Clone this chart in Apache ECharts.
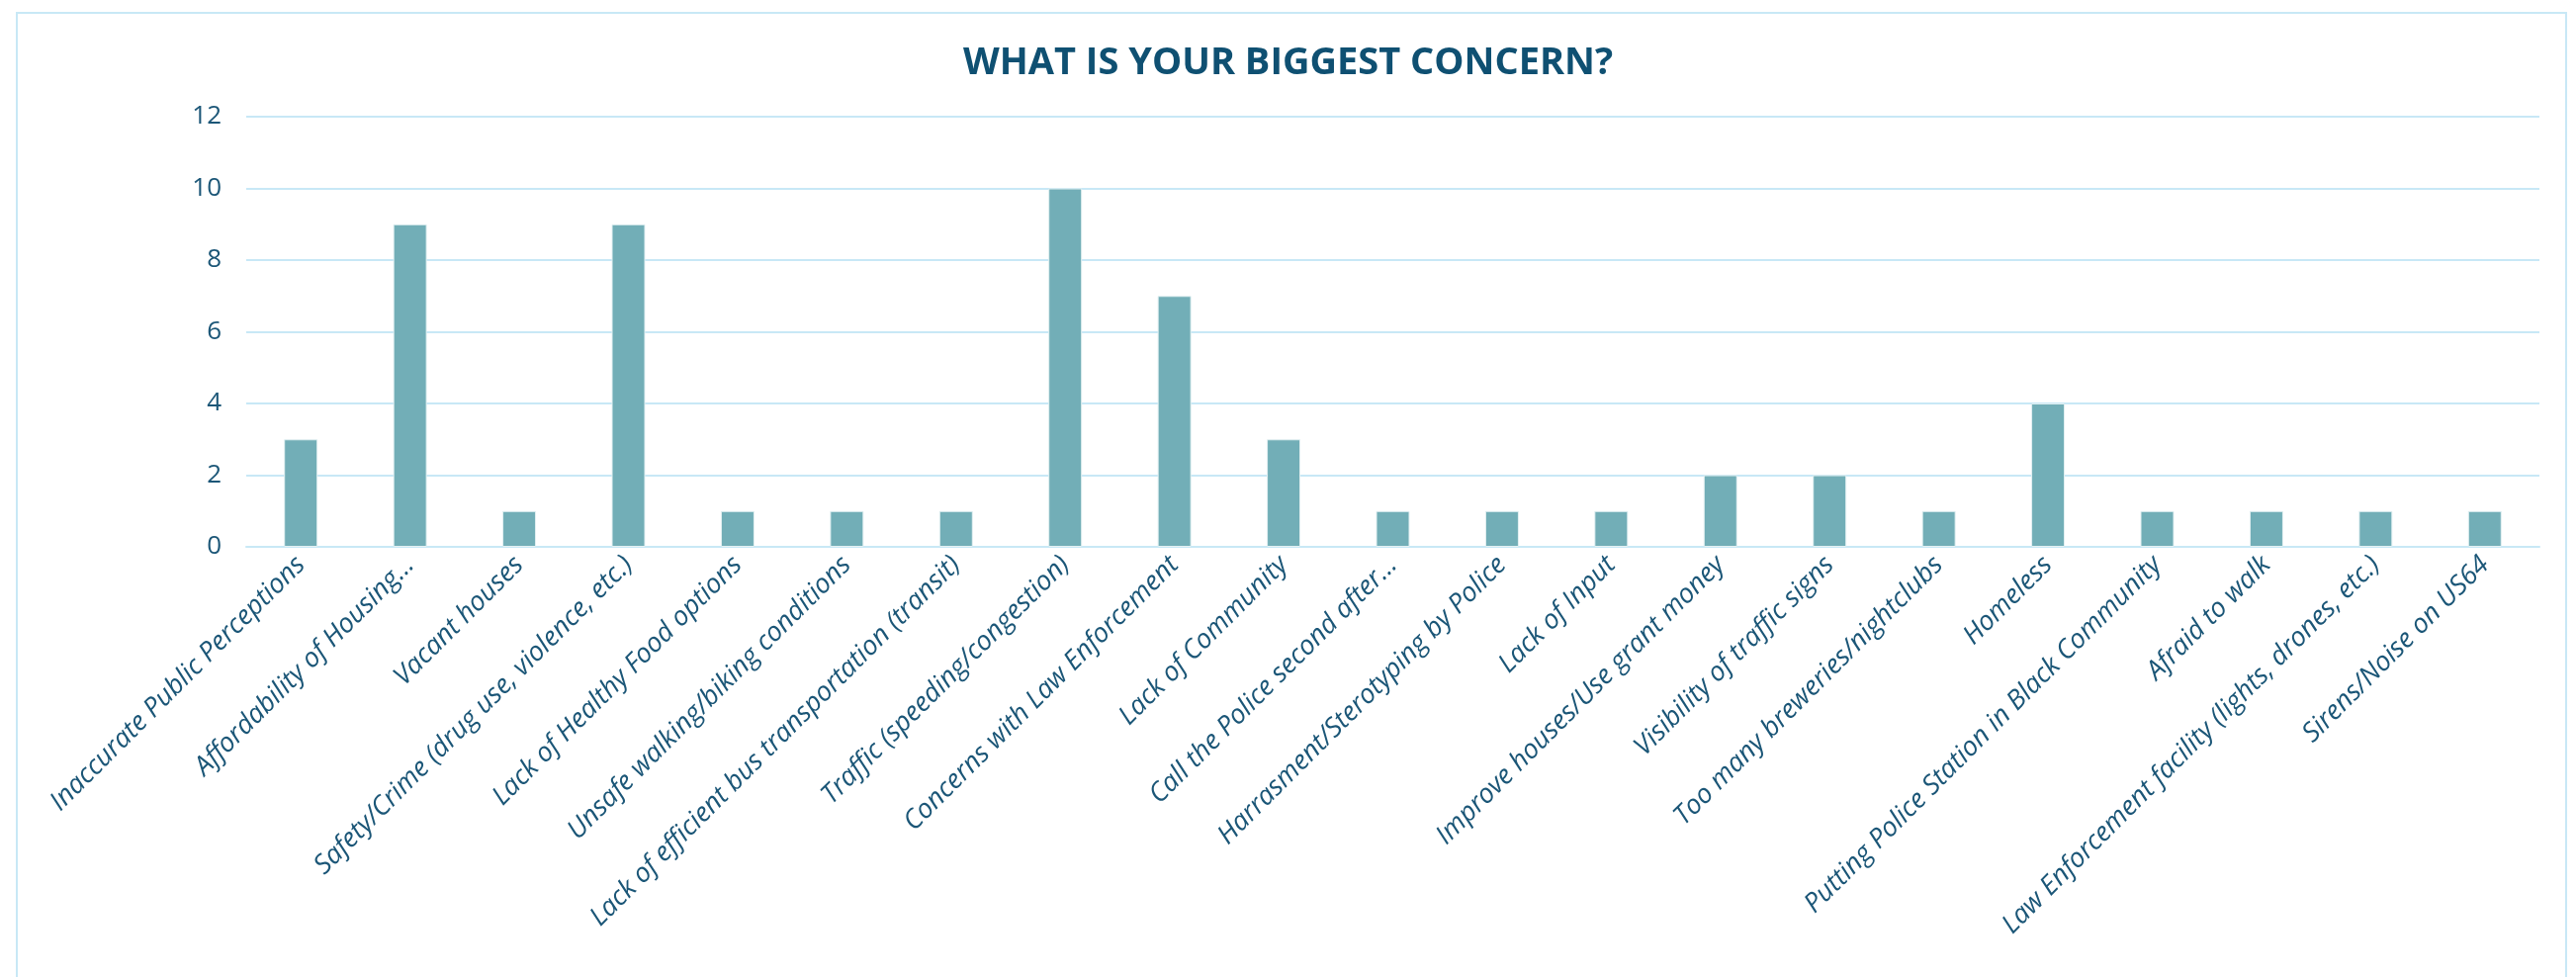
<!DOCTYPE html>
<html>
<head>
<meta charset="utf-8">
<script src="https://cdn.jsdelivr.net/npm/echarts@6/dist/echarts.min.js"></script>
<style>
  html, body { margin: 0; padding: 0; background: #fff; }
  #frame { position: absolute; left: 16px; top: 12px; width: 2580px; height: 1000px; border: 2px solid #c8e8f6; box-sizing: border-box; }
  #main { position: absolute; left: 0; top: 0; width: 2605px; height: 988px; }
</style>
</head>
<body>
<div id="frame"></div>
<div id="main"></div>
<script>
const categories = [
  'Inaccurate Public Perceptions',
  'Affordability of Housing…',
  'Vacant houses',
  'Safety/Crime (drug use, violence, etc.)',
  'Lack of Healthy Food options',
  'Unsafe walking/biking conditions',
  'Lack of efficient bus transportation (transit)',
  'Traffic (speeding/congestion)',
  'Concerns with Law Enforcement',
  'Lack of Community',
  'Call the Police second after…',
  'Harrasment/Sterotyping by Police',
  'Lack of Input',
  'Improve houses/Use grant money',
  'Visibility of traffic signs',
  'Too many breweries/nightclubs',
  'Homeless',
  'Putting Police Station in Black Community',
  'Afraid to walk',
  'Law Enforcement facility (lights, drones, etc.)',
  'Sirens/Noise on US64'
]
const counts = [3, 9, 1, 9, 1, 1, 1, 10, 7, 3, 1, 1, 1, 2, 2, 1, 4, 1, 1, 1, 1]

const textColor = '#1b5677'
const gridColor = '#c8e8f6'

const myChart = echarts.init(document.getElementById('main'))
myChart.setOption({
  animation: false,
  title: {
    text: 'WHAT IS YOUR BIGGEST CONCERN?',
    left: 'center',
    top: 40,
    textStyle: {
      fontFamily: 'Open Sans, sans-serif',
      fontWeight: 'bold',
      fontSize: 38,
      color: '#0f5072'
    }
  },
  grid: {
    left: 249,
    right: 37,
    top: 118,
    bottom: 435
  },
  xAxis: {
    type: 'category',
    data: categories,
    axisLine: { lineStyle: { color: gridColor, width: 2 } },
    axisTick: { show: false },
    axisLabel: {
      interval: 0,
      rotate: 45,
      margin: 14,
      color: textColor,
      fontSize: 27,
      fontStyle: 'italic',
      fontFamily: 'Open Sans, sans-serif'
    }
  },
  yAxis: {
    type: 'value',
    min: 0,
    max: 12,
    interval: 2,
    axisLine: { show: false },
    axisTick: { show: false },
    splitLine: { lineStyle: { color: gridColor, width: 2 } },
    axisLabel: {
      margin: 25,
      color: textColor,
      fontSize: 26,
      fontFamily: 'Open Sans, sans-serif'
    }
  },
  series: [
    {
      type: 'bar',
      data: counts,
      barWidth: 34,
      itemStyle: {
        color: '#72aeb7',
        borderColor: '#e4f1f3',
        borderWidth: 1
      }
    }
  ]
})
</script>
</body>
</html>
